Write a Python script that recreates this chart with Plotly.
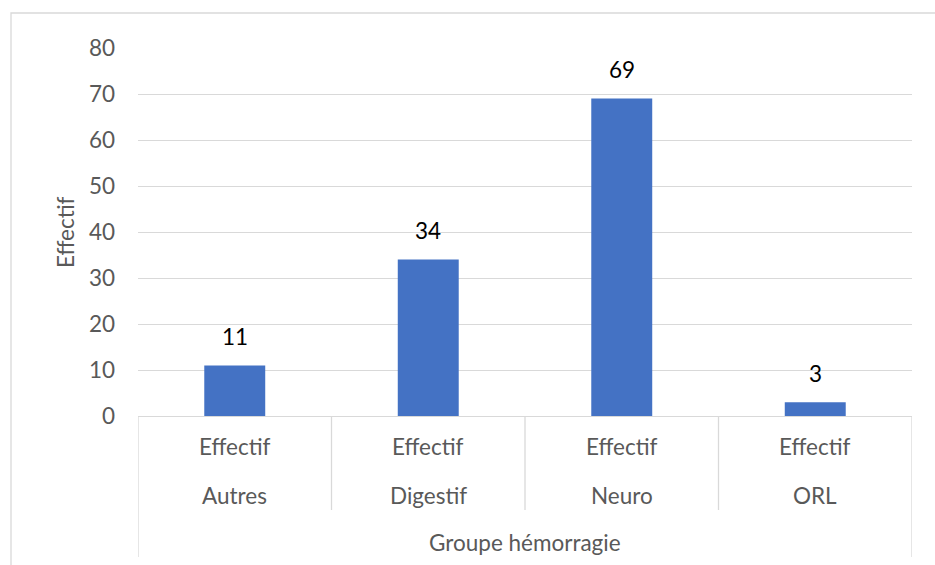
import plotly.graph_objects as go

# Data
groups = ["Autres", "Digestif", "Neuro", "ORL"]
measure = ["Effectif", "Effectif", "Effectif", "Effectif"]
counts = [11, 34, 69, 3]
y_ticks = [0, 10, 20, 30, 40, 50, 60, 70, 80]
y_title = "Effectif"
x_title = "Groupe hémorragie"

W, H = 935, 565
L, R, T, B = 138, 23, 48, 149
plot_h = H - T - B
plot_w = W - L - R

FONT = "Lato"
GRAY = "#595959"
LINE = "#d9d9d9"
FS = 22.5


def py(pixel_y):
    """Convert a page pixel row into paper y coordinates."""
    return (H - B - pixel_y) / plot_h


def px(pixel_x):
    return (pixel_x - L) / plot_w


fig = go.Figure(
    go.Bar(
        x=list(range(len(groups))),
        y=counts,
        marker=dict(color="#4472c4", line=dict(width=0)),
        width=0.315,
        hoverinfo="skip",
    )
)

annotations = []
# Value labels above the bars
for i, v in enumerate(counts):
    annotations.append(dict(
        x=i, y=v, xref="x", yref="y", text=str(v), showarrow=False,
        yshift=29, font=dict(family=FONT, size=FS, color="#000000"),
    ))

# Multi-level category labels
for i, (g, m) in enumerate(zip(groups, measure)):
    annotations.append(dict(
        x=i, y=py(446), xref="x", yref="paper", text=m, showarrow=False,
        font=dict(family=FONT, size=FS, color=GRAY), yanchor="middle",
    ))
    annotations.append(dict(
        x=i, y=py(495), xref="x", yref="paper", text=g, showarrow=False,
        font=dict(family=FONT, size=FS, color=GRAY), yanchor="middle",
    ))
annotations.append(dict(
    x=(len(groups) - 1) / 2, y=py(542), xref="x", yref="paper", text=x_title,
    showarrow=False, font=dict(family=FONT, size=FS, color=GRAY), yanchor="middle",
))
# Y axis title
annotations.append(dict(
    x=px(65), y=0.5, xref="paper", yref="paper", text=y_title, textangle=-90,
    showarrow=False, font=dict(family=FONT, size=FS, color=GRAY),
    xanchor="center", yanchor="middle",
))

shapes = []
# Category divider lines
n = len(groups)
for k in range(n + 1):
    xb = k - 0.5
    bottom = 557 if k in (0, n) else 510
    shapes.append(dict(
        type="line", xref="x", yref="paper", x0=xb, x1=xb,
        y0=0, y1=py(bottom), line=dict(color=LINE, width=1.3),
    ))
# Chart border
shapes.append(dict(
    type="rect", xref="paper", yref="paper",
    x0=px(11), x1=px(W + 5), y0=py(13), y1=py(H + 5),
    line=dict(color=LINE, width=1.3), fillcolor="rgba(0,0,0,0)", layer="below",
))

fig.update_layout(
    width=W, height=H,
    margin=dict(l=L, r=R, t=T, b=B),
    paper_bgcolor="white", plot_bgcolor="white",
    showlegend=False,
    font=dict(family=FONT, size=FS, color=GRAY),
    xaxis=dict(
        range=[-0.5, n - 0.5], showticklabels=False, showgrid=False,
        zeroline=False, showline=False, ticks="", fixedrange=True,
    ),
    yaxis=dict(
        range=[0, 80], tickvals=y_ticks, showgrid=True, gridcolor=LINE,
        gridwidth=1.3, zeroline=True, zerolinecolor=LINE, zerolinewidth=1.3,
        showline=False, ticks="", ticklabelstandoff=22,
        tickfont=dict(family=FONT, size=FS, color=GRAY), fixedrange=True,
    ),
    annotations=annotations,
    shapes=shapes,
    bargap=0.685,
)

fig.write_html("out.html")
